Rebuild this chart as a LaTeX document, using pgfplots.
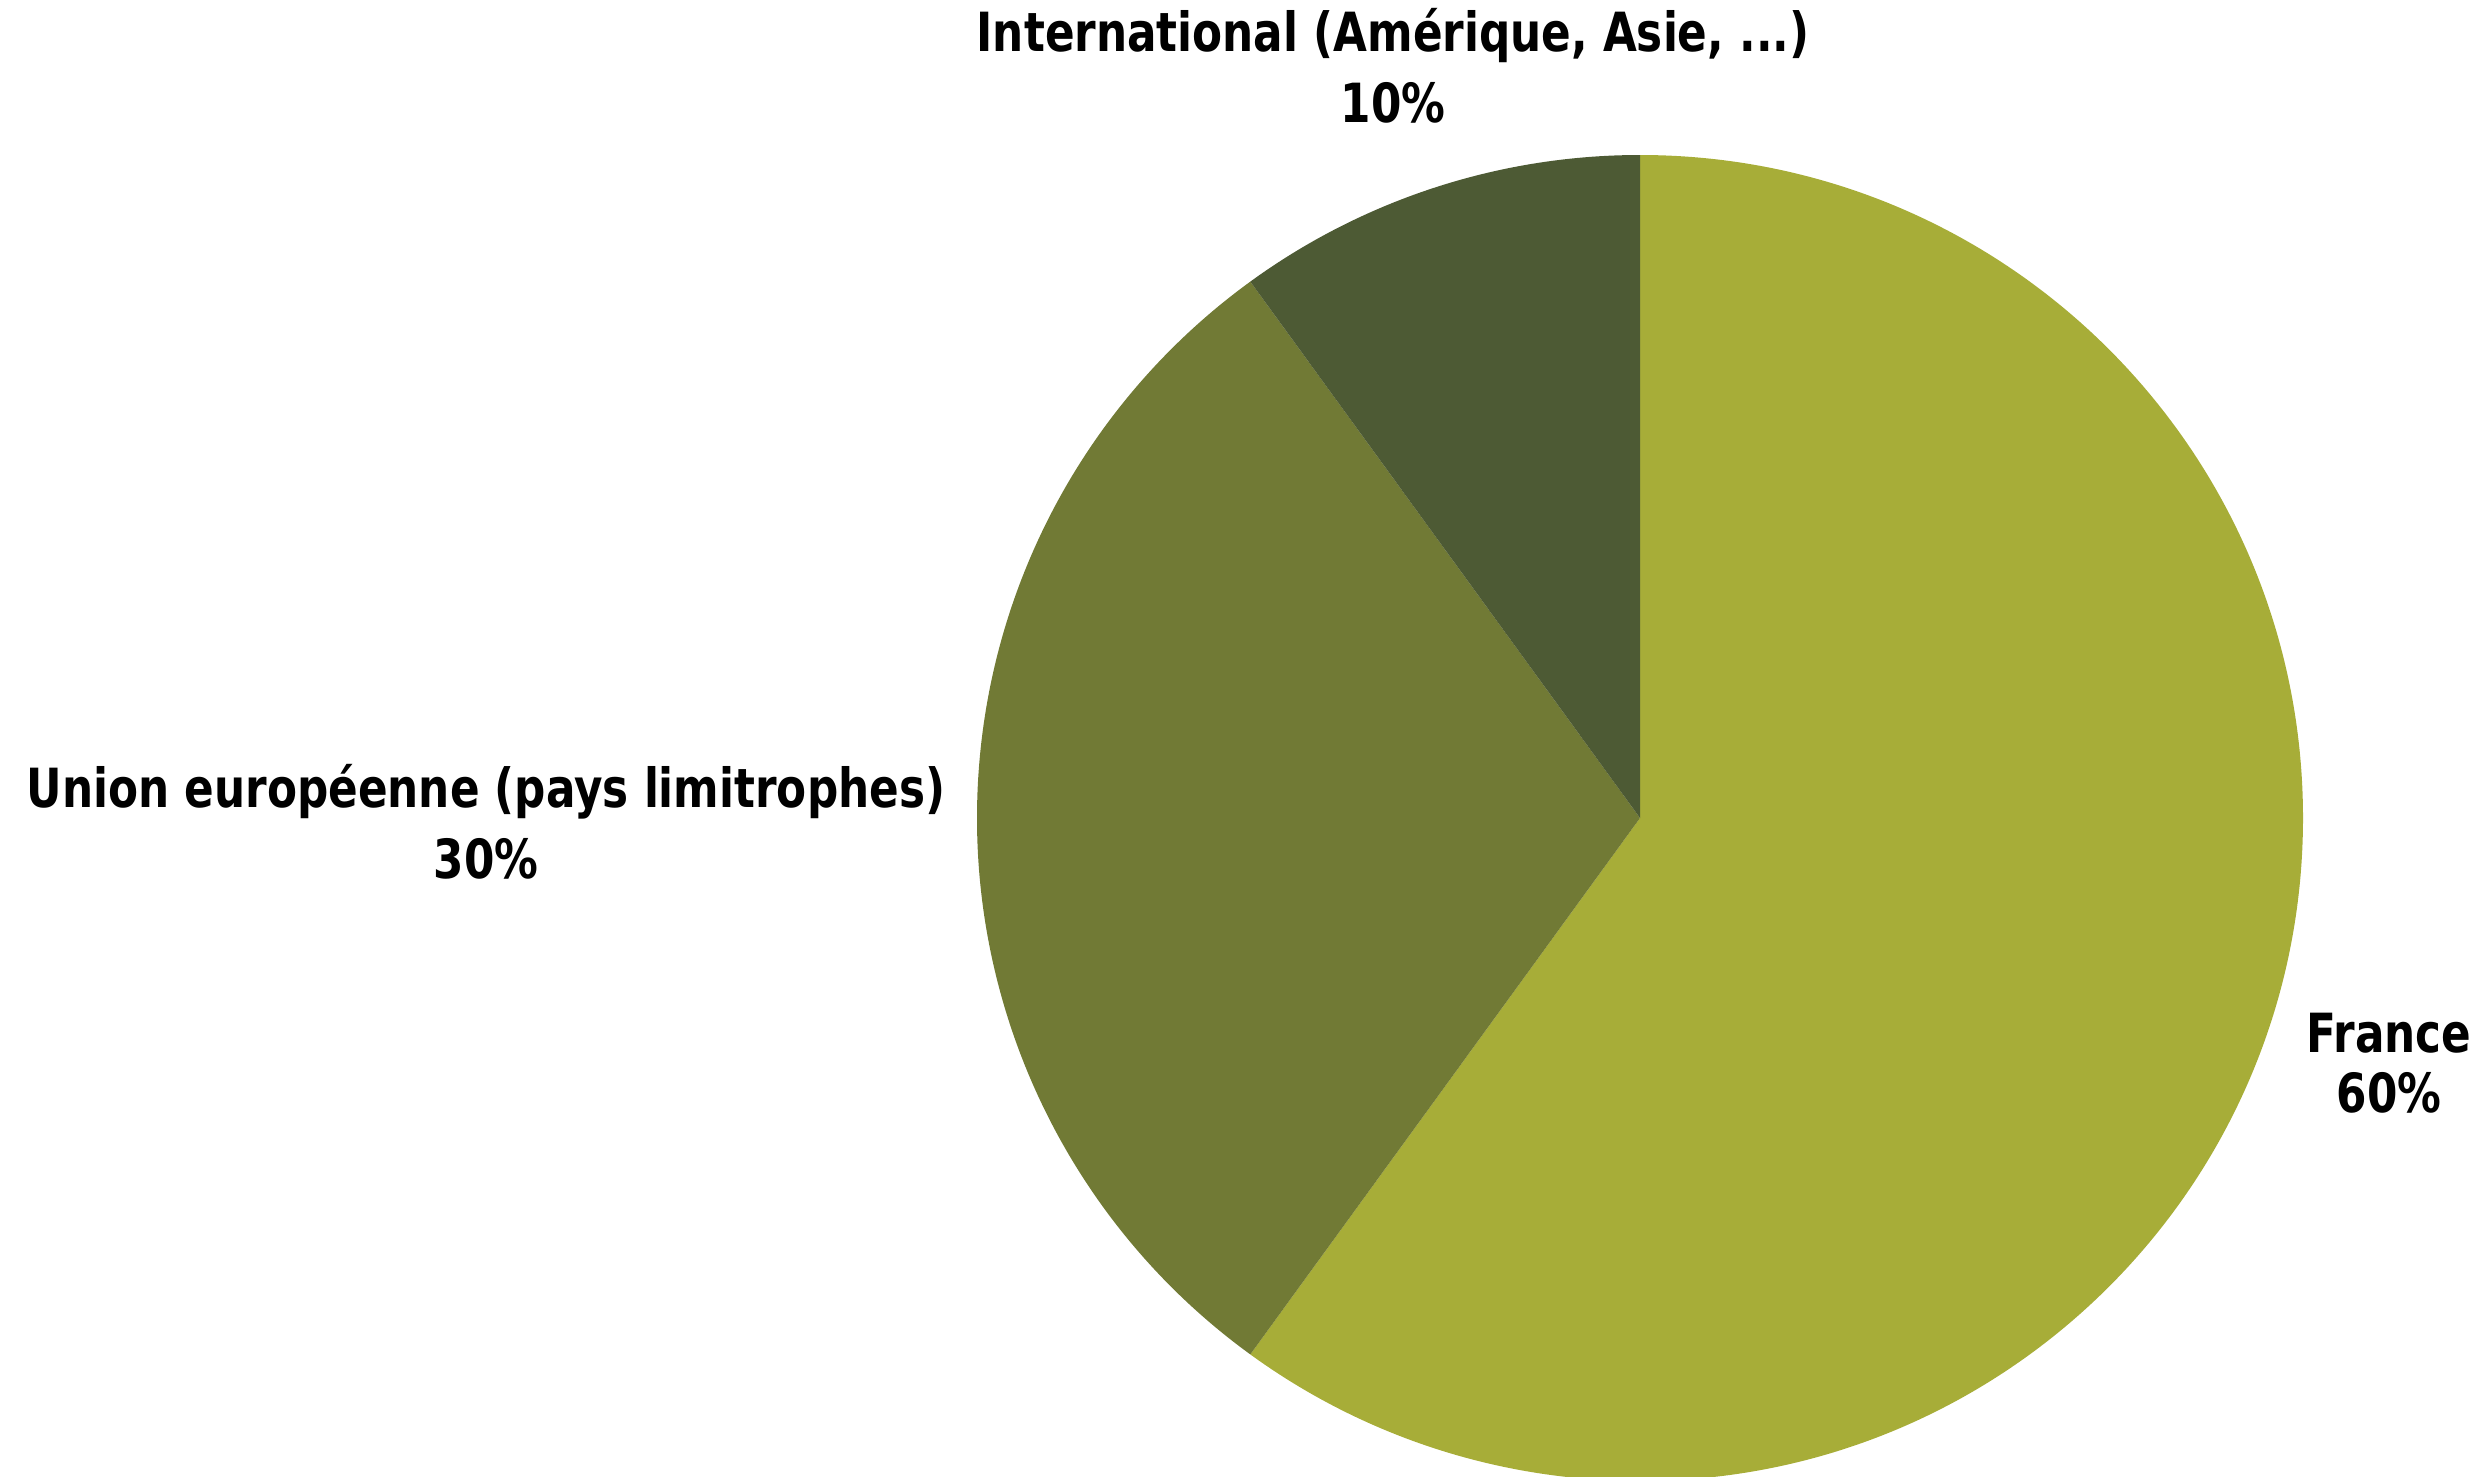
\documentclass[border=0pt]{standalone}
\usepackage{pgfplots}
\pgfplotsset{compat=1.18}
\usepackage{fontspec}
\setmainfont{DejaVu Sans Condensed}[FakeStretch=0.9]

\definecolor{franceC}{HTML}{A7AD38}
\definecolor{ueC}{HTML}{717A35}
\definecolor{intlC}{HTML}{4D5A34}

\begin{document}
\begin{tikzpicture}
\begin{axis}[
    scale only axis,
    width=620.5bp, height=369.25bp,
    xmin=0, xmax=2482, ymin=0, ymax=1477,
    y dir=reverse,
    hide axis,
    clip=true,
    ]
    % shares: France 60 %, UE 30 %, International 10 % (360 deg = 100 %)
    % clockwise from 12 o'clock
    \fill[franceC] (axis cs:1640,818) -- ++(90:165.75bp)
        arc[start angle=90, end angle=-126, radius=165.75bp] -- cycle;
    \fill[ueC] (axis cs:1640,818) -- ++(-126:165.75bp)
        arc[start angle=-126, end angle=-234, radius=165.75bp] -- cycle;
    \fill[intlC] (axis cs:1640,818) -- ++(-234:165.75bp)
        arc[start angle=-234, end angle=-270, radius=165.75bp] -- cycle;

    \tikzset{lbl/.style={font=\bfseries\fontsize{13.5bp}{17.8bp}\selectfont, align=center, inner sep=0pt}}
    \node[lbl] at (axis cs:1393,66) {International (Amérique, Asie, ...)\\10\%};
    \node[lbl] at (axis cs:486,822) {Union européenne (pays limitrophes)\\30\%};
    \node[lbl, font=\bfseries\fontsize{13.5bp}{15bp}\selectfont] at (axis cs:2389,1063) {France\\60\%};
\end{axis}
\pgfresetboundingbox
\path[use as bounding box] (current axis.south west) rectangle (current axis.north east);
\end{tikzpicture}
\end{document}
